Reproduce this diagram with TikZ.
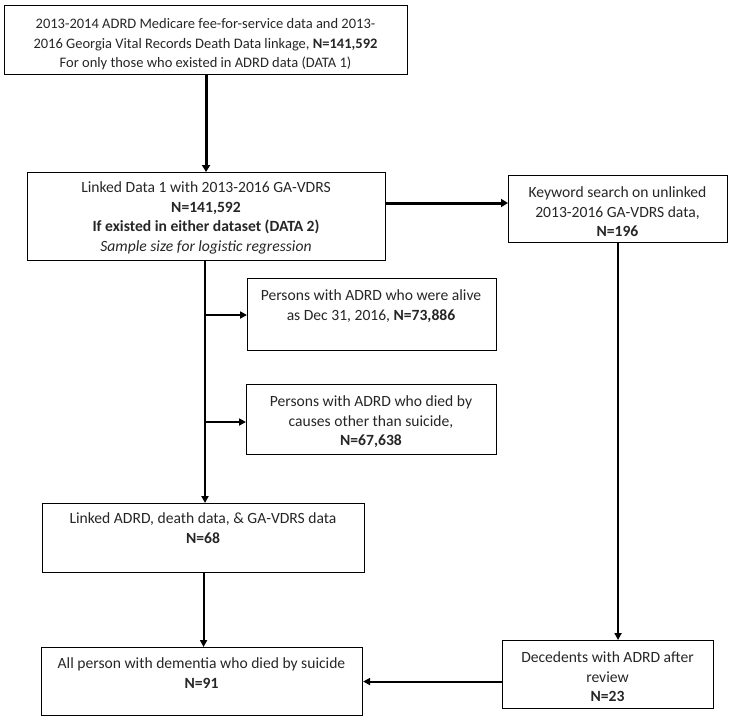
\documentclass[tikz,border=0pt]{standalone}
\usepackage{fontspec}
\setmainfont{Carlito}
\usetikzlibrary{arrows.meta}
\tikzset{
  box/.style={draw=black, line width=1.1pt, inner sep=0pt, anchor=north west},
  txt/.style={font=\fontsize{15.6}{19.5}\selectfont, align=center, inner sep=0pt, anchor=north, text=black!85},
  smalltxt/.style={txt, font=\fontsize{14.5}{19.5}\selectfont},
  arr/.style={line width=2pt, -{Triangle[length=7pt,width=7pt]}},
  bigarr/.style={line width=3pt, -{Triangle[length=7pt,width=8pt]}},
}
\begin{document}
\begin{tikzpicture}[x=1pt,y=-1pt]
\useasboundingbox (0,0) rectangle (732,720);
% boxes
\node[box, minimum width=403pt, minimum height=69pt] (top) at (4,5) {};
\node[box, minimum width=358pt, minimum height=88pt] (lnk) at (27,172) {};
\node[box, minimum width=219pt, minimum height=67pt] (kw) at (508,175) {};
\node[box, minimum width=249pt, minimum height=72pt] (alive) at (247,278) {};
\node[box, minimum width=250pt, minimum height=70pt] (died) at (246,384) {};
\node[box, minimum width=322pt, minimum height=69pt] (ladrd) at (42,503) {};
\node[box, minimum width=321pt, minimum height=68pt] (all) at (41,647) {};
\node[box, minimum width=211pt, minimum height=68pt] (dec) at (502,640) {};
% texts
\node[smalltxt] (topt) at (205.5,15) {\strut 2013-2014 ADRD Medicare fee-for-service data and 2013-\\2016 Georgia Vital Records Death Data linkage, \textbf{N=141,592}\\For only those who existed in ADRD data (DATA 1)};
\node[txt] (lnkt) at (206,179) {\strut Linked Data 1 with 2013-2016 GA-VDRS\\\textbf{N=141,592}\\\textbf{If existed in either dataset (DATA 2)}\\\textit{Sample size for logistic regression}};
\node[txt] (kwt) at (617.5,184) {\strut Keyword search on unlinked\\2013-2016 GA-VDRS data,\\\textbf{N=196}};
\node[txt] (alivet) at (371,287) {\strut Persons with ADRD who were alive\\as Dec 31, 2016, \textbf{N=73,886}};
\node[txt] (diedt) at (371,393) {\strut Persons with ADRD who died by\\causes other than suicide,\\\textbf{N=67,638}};
\node[txt] (ladrdt) at (203,510) {\strut Linked ADRD, death data, \& GA-VDRS data\\\textbf{N=68}};
\node[txt] (allt) at (201.5,655) {\strut All person with dementia who died by suicide\\\textbf{N=91}};
\node[txt] (dect) at (607.5,649) {\strut Decedents with ADRD after\\review\\\textbf{N=23}};
% helper coordinates
\coordinate (hk) at (0,203);
\coordinate (trunk) at (205,0);
\coordinate (br1) at (0,315);
\coordinate (br2) at (0,422);
% connectors
\draw[bigarr] (top.south) -- (top.south |- lnk.north);
\draw[bigarr] (lnk.east |- hk) -- (kw.west |- hk);
\draw[arr] (kw.south) -- (kw.south |- dec.north);
\draw[arr] (trunk |- lnk.south) -- (trunk |- ladrd.north);
\draw[arr] (trunk |- br1) -- (alive.west |- br1);
\draw[arr] (trunk |- br2) -- (died.west |- br2);
\draw[arr] (ladrd.south) -- (ladrd.south |- all.north);
\draw[arr] (dec.west |- all.east) -- (all.east);
\end{tikzpicture}
\end{document}
